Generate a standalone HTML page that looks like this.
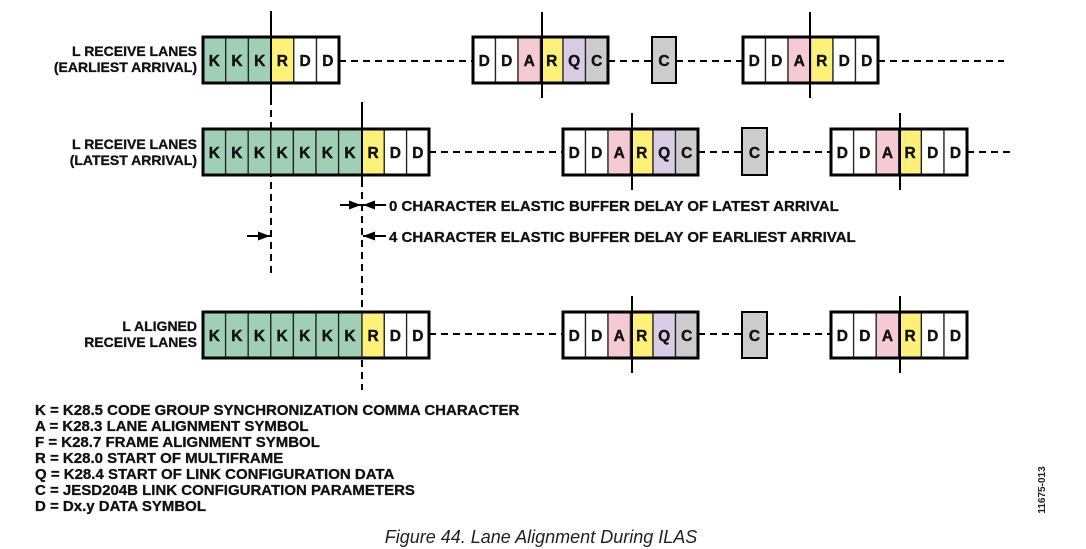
<!DOCTYPE html>
<html><head><meta charset="utf-8"><style>
html,body{margin:0;padding:0;background:#fff;}
svg{display:block;}
text{font-family:"Liberation Sans",Arial,sans-serif;}
</style></head><body>
<svg width="1086" height="549" viewBox="0 0 1086 549" xmlns="http://www.w3.org/2000/svg">
<defs>
<marker id="ah" markerWidth="12" markerHeight="9" refX="12" refY="4.5" orient="auto" markerUnits="userSpaceOnUse"><path d="M0,0 L12,4.5 L0,9 z" fill="#000"/></marker>
</defs>
<g stroke="#000" stroke-width="2" stroke-dasharray="7,5" fill="none">
<line x1="339" y1="61" x2="473" y2="61"/>
<line x1="608" y1="61" x2="652" y2="61"/>
<line x1="676" y1="61" x2="743" y2="61"/>
<line x1="878" y1="61" x2="1004" y2="61"/>
<line x1="429" y1="152" x2="563" y2="152"/>
<line x1="698" y1="152" x2="742" y2="152"/>
<line x1="767" y1="152" x2="831" y2="152"/>
<line x1="967" y1="152" x2="1014" y2="152"/>
<line x1="429" y1="334" x2="563" y2="334"/>
<line x1="698" y1="334" x2="742" y2="334"/>
<line x1="767" y1="334" x2="831" y2="334"/>
<line x1="271" y1="98" x2="271" y2="274"/>
<line x1="362" y1="180" x2="362" y2="390"/>
</g>
<g stroke="#222" stroke-width="1.3">
<rect x="203" y="37" width="22.7" height="46" fill="#9fcfb5"/><rect x="225.7" y="37" width="22.7" height="46" fill="#9fcfb5"/><rect x="248.4" y="37" width="22.7" height="46" fill="#9fcfb5"/><rect x="271.1" y="37" width="22.7" height="46" fill="#fef17a"/><rect x="293.8" y="37" width="22.7" height="46" fill="#fff"/><rect x="316.5" y="37" width="22.7" height="46" fill="#fff"/>
<rect x="473" y="37" width="22.5" height="46" fill="#fff"/><rect x="495.5" y="37" width="22.5" height="46" fill="#fff"/><rect x="518" y="37" width="22.5" height="46" fill="#f6cad3"/><rect x="540.5" y="37" width="22.5" height="46" fill="#fef17a"/><rect x="563" y="37" width="22.5" height="46" fill="#d9cde6"/><rect x="585.5" y="37" width="22.5" height="46" fill="#cccccc"/>
<rect x="652" y="37" width="24" height="46" fill="#cccccc"/>
<rect x="743" y="37" width="22.5" height="46" fill="#fff"/><rect x="765.5" y="37" width="22.5" height="46" fill="#fff"/><rect x="788" y="37" width="22.5" height="46" fill="#f6cad3"/><rect x="810.5" y="37" width="22.5" height="46" fill="#fef17a"/><rect x="833" y="37" width="22.5" height="46" fill="#fff"/><rect x="855.5" y="37" width="22.5" height="46" fill="#fff"/>
<rect x="203" y="129" width="22.6" height="46" fill="#9fcfb5"/><rect x="225.6" y="129" width="22.6" height="46" fill="#9fcfb5"/><rect x="248.2" y="129" width="22.6" height="46" fill="#9fcfb5"/><rect x="270.8" y="129" width="22.6" height="46" fill="#9fcfb5"/><rect x="293.4" y="129" width="22.6" height="46" fill="#9fcfb5"/><rect x="316" y="129" width="22.6" height="46" fill="#9fcfb5"/><rect x="338.6" y="129" width="23.4" height="46" fill="#9fcfb5"/><rect x="362" y="129" width="22.3" height="46" fill="#fef17a"/><rect x="384.3" y="129" width="22.3" height="46" fill="#fff"/><rect x="406.6" y="129" width="22.4" height="46" fill="#fff"/>
<rect x="563" y="129" width="22.5" height="46" fill="#fff"/><rect x="585.5" y="129" width="22.5" height="46" fill="#fff"/><rect x="608" y="129" width="22.5" height="46" fill="#f6cad3"/><rect x="630.5" y="129" width="22.5" height="46" fill="#fef17a"/><rect x="653" y="129" width="22.5" height="46" fill="#d9cde6"/><rect x="675.5" y="129" width="22.5" height="46" fill="#cccccc"/>
<rect x="742" y="128" width="25" height="47" fill="#cccccc"/>
<rect x="831" y="129" width="22.6" height="46" fill="#fff"/><rect x="853.6" y="129" width="22.6" height="46" fill="#fff"/><rect x="876.2" y="129" width="22.6" height="46" fill="#f6cad3"/><rect x="898.8" y="129" width="22.6" height="46" fill="#fef17a"/><rect x="921.4" y="129" width="22.6" height="46" fill="#fff"/><rect x="944" y="129" width="23" height="46" fill="#fff"/>
<rect x="203" y="312" width="22.6" height="46" fill="#9fcfb5"/><rect x="225.6" y="312" width="22.6" height="46" fill="#9fcfb5"/><rect x="248.2" y="312" width="22.6" height="46" fill="#9fcfb5"/><rect x="270.8" y="312" width="22.6" height="46" fill="#9fcfb5"/><rect x="293.4" y="312" width="22.6" height="46" fill="#9fcfb5"/><rect x="316" y="312" width="22.6" height="46" fill="#9fcfb5"/><rect x="338.6" y="312" width="23.4" height="46" fill="#9fcfb5"/><rect x="362" y="312" width="22.3" height="46" fill="#fef17a"/><rect x="384.3" y="312" width="22.3" height="46" fill="#fff"/><rect x="406.6" y="312" width="22.4" height="46" fill="#fff"/>
<rect x="563" y="312" width="22.5" height="46" fill="#fff"/><rect x="585.5" y="312" width="22.5" height="46" fill="#fff"/><rect x="608" y="312" width="22.5" height="46" fill="#f6cad3"/><rect x="630.5" y="312" width="22.5" height="46" fill="#fef17a"/><rect x="653" y="312" width="22.5" height="46" fill="#d9cde6"/><rect x="675.5" y="312" width="22.5" height="46" fill="#cccccc"/>
<rect x="742" y="312" width="25" height="46" fill="#cccccc"/>
<rect x="831" y="312" width="22.6" height="46" fill="#fff"/><rect x="853.6" y="312" width="22.6" height="46" fill="#fff"/><rect x="876.2" y="312" width="22.6" height="46" fill="#f6cad3"/><rect x="898.8" y="312" width="22.6" height="46" fill="#fef17a"/><rect x="921.4" y="312" width="22.6" height="46" fill="#fff"/><rect x="944" y="312" width="23" height="46" fill="#fff"/>
</g>
<g stroke="#000" stroke-width="3" fill="none">
<rect x="203" y="37" width="136" height="46"/><rect x="473" y="37" width="135" height="46"/><rect x="652" y="37" width="24" height="46" stroke-width="2"/><rect x="743" y="37" width="135" height="46"/>
<rect x="203" y="129" width="226" height="46"/><rect x="563" y="129" width="135" height="46"/><rect x="742" y="128" width="25" height="47" stroke-width="2"/><rect x="831" y="129" width="136" height="46"/>
<rect x="203" y="312" width="226" height="46"/><rect x="563" y="312" width="135" height="46"/><rect x="742" y="312" width="25" height="46" stroke-width="2"/><rect x="831" y="312" width="136" height="46"/>
</g>
<g stroke="#000" stroke-width="2">
<line x1="271" y1="11" x2="271" y2="98"/>
<line x1="542" y1="12" x2="542" y2="98"/>
<line x1="810" y1="12" x2="810" y2="98"/>
<line x1="362" y1="102" x2="362" y2="180"/>
<line x1="632" y1="113" x2="632" y2="190"/>
<line x1="900" y1="113" x2="900" y2="190"/>
<line x1="632" y1="296" x2="632" y2="373"/>
<line x1="900" y1="296" x2="900" y2="373"/>
</g>
<g stroke="#000" stroke-width="2" fill="none">
<line x1="340" y1="205" x2="361" y2="205" marker-end="url(#ah)"/>
<line x1="386" y1="205" x2="363" y2="205" marker-end="url(#ah)"/>
<line x1="386" y1="236" x2="363" y2="236" marker-end="url(#ah)"/>
<line x1="247" y1="236" x2="270" y2="236" marker-end="url(#ah)"/>
</g>
<g font-size="15.5" font-weight="bold" text-anchor="middle" fill="#111" stroke="#111" stroke-width="0.4">
<text x="214.3" y="66">K</text><text x="237" y="66">K</text><text x="259.7" y="66">K</text><text x="282.4" y="66">R</text><text x="305.1" y="66">D</text><text x="327.8" y="66">D</text>
<text x="484.2" y="66">D</text><text x="506.7" y="66">D</text><text x="529.2" y="66">A</text><text x="551.7" y="66">R</text><text x="574.2" y="66">Q</text><text x="596.7" y="66">C</text>
<text x="664" y="66">C</text>
<text x="754.2" y="66">D</text><text x="776.7" y="66">D</text><text x="799.2" y="66">A</text><text x="821.7" y="66">R</text><text x="844.2" y="66">D</text><text x="866.7" y="66">D</text>
<text x="214.3" y="158">K</text><text x="236.9" y="158">K</text><text x="259.5" y="158">K</text><text x="282.1" y="158">K</text><text x="304.7" y="158">K</text><text x="327.3" y="158">K</text><text x="350" y="158">K</text><text x="373.1" y="158">R</text><text x="395.4" y="158">D</text><text x="417.8" y="158">D</text>
<text x="574.2" y="158">D</text><text x="596.7" y="158">D</text><text x="619.2" y="158">A</text><text x="641.7" y="158">R</text><text x="664.2" y="158">Q</text><text x="686.7" y="158">C</text>
<text x="754.5" y="158">C</text>
<text x="842.3" y="158">D</text><text x="864.9" y="158">D</text><text x="887.5" y="158">A</text><text x="910.1" y="158">R</text><text x="932.7" y="158">D</text><text x="955.5" y="158">D</text>
<text x="214.3" y="341">K</text><text x="236.9" y="341">K</text><text x="259.5" y="341">K</text><text x="282.1" y="341">K</text><text x="304.7" y="341">K</text><text x="327.3" y="341">K</text><text x="350" y="341">K</text><text x="373.1" y="341">R</text><text x="395.4" y="341">D</text><text x="417.8" y="341">D</text>
<text x="574.2" y="341">D</text><text x="596.7" y="341">D</text><text x="619.2" y="341">A</text><text x="641.7" y="341">R</text><text x="664.2" y="341">Q</text><text x="686.7" y="341">C</text>
<text x="754.5" y="341">C</text>
<text x="842.3" y="341">D</text><text x="864.9" y="341">D</text><text x="887.5" y="341">A</text><text x="910.1" y="341">R</text><text x="932.7" y="341">D</text><text x="955.5" y="341">D</text>
</g>
<g font-size="14" font-weight="bold" text-anchor="end" fill="#111" stroke="#111" stroke-width="0.3">
<text x="197" y="56">L RECEIVE LANES</text><text x="197" y="72">(EARLIEST ARRIVAL)</text>
<text x="197" y="149">L RECEIVE LANES</text><text x="197" y="165">(LATEST ARRIVAL)</text>
<text x="197" y="331">L ALIGNED</text><text x="197" y="347">RECEIVE LANES</text>
</g>
<g font-size="15" font-weight="bold" fill="#111" stroke="#111" stroke-width="0.3">
<text x="389" y="211">0 CHARACTER ELASTIC BUFFER DELAY OF LATEST ARRIVAL</text>
<text x="389" y="242">4 CHARACTER ELASTIC BUFFER DELAY OF EARLIEST ARRIVAL</text>
<text x="35" y="415">K = K28.5 CODE GROUP SYNCHRONIZATION COMMA CHARACTER</text>
<text x="35" y="431">A = K28.3 LANE ALIGNMENT SYMBOL</text>
<text x="35" y="447">F = K28.7 FRAME ALIGNMENT SYMBOL</text>
<text x="35" y="463">R = K28.0 START OF MULTIFRAME</text>
<text x="35" y="479">Q = K28.4 START OF LINK CONFIGURATION DATA</text>
<text x="35" y="495">C = JESD204B LINK CONFIGURATION PARAMETERS</text>
<text x="35" y="511">D = Dx.y DATA SYMBOL</text>
</g>
<text x="1045" y="490" font-size="10" font-weight="bold" text-anchor="middle" transform="rotate(-90 1045 490)" fill="#222">11675-013</text>
<text x="541" y="543" font-size="18" font-style="italic" text-anchor="middle" fill="#222">Figure 44. Lane Alignment During ILAS</text>
</svg>
</body></html>
